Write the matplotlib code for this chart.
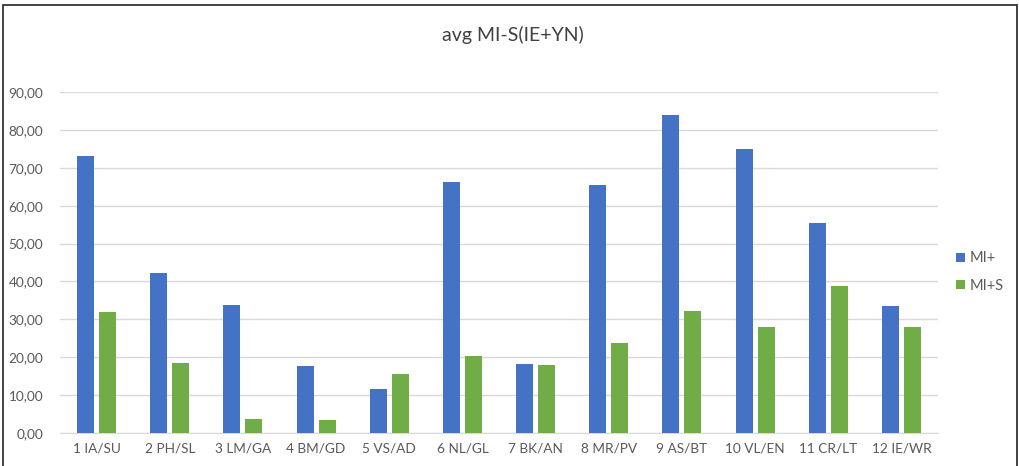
import matplotlib
matplotlib.use("Agg")
import matplotlib.pyplot as plt
import numpy as np
from matplotlib.patches import Rectangle
from matplotlib.ticker import FuncFormatter

categories = ["1 IA/SU", "2 PH/SL", "3 LM/GA", "4 BM/GD", "5 VS/AD", "6 NL/GL",
              "7 BK/AN", "8 MR/PV", "9 AS/BT", "10 VL/EN", "11 CR/LT", "12 IE/WR"]
mi_plus = [73.2, 42.2, 33.8, 17.8, 11.5, 66.3, 18.3, 65.5, 83.9, 75.0, 55.4, 33.5]
mi_plus_s = [31.9, 18.5, 3.8, 3.4, 15.5, 20.2, 18.0, 23.8, 32.3, 27.9, 38.9, 28.0]
series_names = ["MI+", "MI+S"]
title = "avg MI-S(IE+YN)"

BLUE = "#4472C4"
GREEN = "#70AD47"
TEXT = "#595959"

plt.rcParams["font.family"] = ["Lato", "DejaVu Sans"]

fig = plt.figure(figsize=(10.19, 4.66), dpi=100)
ax = fig.add_axes([60 / 1019, 1 - 433 / 466, 878 / 1019, 341 / 466])

x = np.arange(len(categories))
w = 0.232
off = 0.15
b1 = ax.bar(x - off, mi_plus, w, color=BLUE, label=series_names[0], zorder=3)
b2 = ax.bar(x + off, mi_plus_s, w, color=GREEN, label=series_names[1], zorder=3)

ax.set_xlim(-0.5, len(categories) - 0.5)
ax.set_ylim(0, 90)
ax.set_yticks(np.arange(0, 91, 10))
ax.yaxis.set_major_formatter(FuncFormatter(lambda v, _: f"{v:.2f}".replace(".", ",")))
ax.set_xticks(x)
ax.set_xticklabels(categories)
ax.tick_params(axis="both", length=0, labelsize=9.8, colors=TEXT)
ax.tick_params(axis="y", pad=12)
ax.tick_params(axis="x", pad=7)
ax.grid(axis="y", color="#D9D9D9", linewidth=1.0, zorder=0)
for s in ["top", "right", "left"]:
    ax.spines[s].set_visible(False)
ax.spines["bottom"].set_color("#D9D9D9")

fig.text(0.503, 1 - 35 / 466, title, ha="center", va="center", fontsize=14, color="#404040")

fig.legend(handles=[b1, b2], loc="center left", bbox_to_anchor=(943 / 1019, 1 - 272 / 466),
           frameon=False, fontsize=10.5, handlelength=0.6, handleheight=0.6,
           handletextpad=0.3, labelspacing=0.9, labelcolor=TEXT)

# outer chart frame
fig.patches.append(Rectangle((3 / 1019, -0.02), 1014 / 1019, 1 - 5 / 466 + 0.02,
                             transform=fig.transFigure, fill=False,
                             edgecolor="#222222", linewidth=1.2))

fig.savefig("out.png", dpi=100)
